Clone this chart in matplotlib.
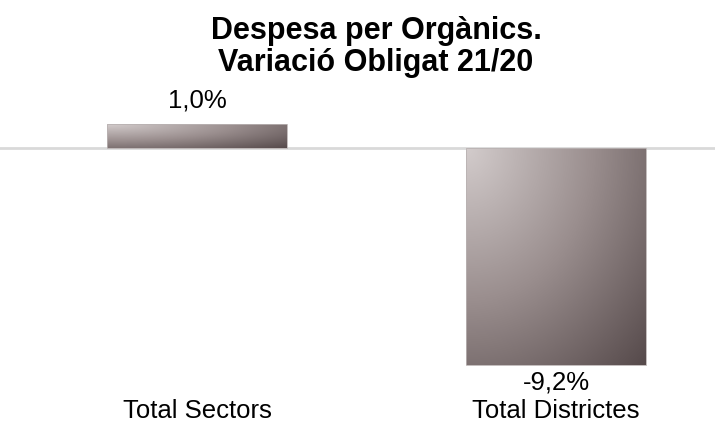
import numpy as np
import matplotlib
matplotlib.use('Agg')
import matplotlib.pyplot as plt
from matplotlib.colors import LinearSegmentedColormap

# Data
categories = ['Total Sectors', 'Total Districtes']
values = [1.0, -9.2]
value_labels = ['1,0%', '-9,2%']
title = 'Despesa per Orgànics.\nVariació Obligat 21/20'

plt.rcParams['font.family'] = ['Liberation Sans', 'DejaVu Sans']

fig = plt.figure(figsize=(7.15, 4.24), dpi=100)
# axes placed in pixel terms: top at y=115 px, bottom at y=375 px
ax = fig.add_axes([0, (424 - 375) / 424, 1, (375 - 115) / 424])

grad_cmap = LinearSegmentedColormap.from_list('bar', ['#d3cccc', '#9a8e8e', '#564a4b'])

x = np.arange(len(categories))
width = 0.5
bars = ax.bar(x, values, width=width, color='none', edgecolor='#b9b2b2', linewidth=0.6, zorder=3)

# diagonal gradient fill for each bar
u, v = np.meshgrid(np.linspace(0, 1, 200), np.linspace(0, 1, 200))
g = np.sqrt(u ** 2 + v ** 2) / np.sqrt(2)
for b in bars:
    x0, y0 = b.get_x(), b.get_y()
    w, h = b.get_width(), b.get_height()
    top, bot = max(y0, y0 + h), min(y0, y0 + h)
    im = ax.imshow(g, cmap=grad_cmap, extent=[x0, x0 + w, bot, top], origin='upper',
                   aspect='auto', zorder=2, interpolation='bilinear')
    im.set_clip_path(b)

ax.axhline(0, color='#d9d9d9', linewidth=2, zorder=1)

ax.set_xlim(-0.549, 1.443)
ax.set_ylim(-9.62, 1.398)
ax.axis('off')

# value labels
for xi, val, lab in zip(x, values, value_labels):
    if val >= 0:
        ax.text(xi, val + 0.5, lab, ha='center', va='bottom', fontsize=18.5)
    else:
        ax.text(xi, val - 0.25, lab, ha='center', va='top', fontsize=18.5)

# category labels
for xi, cat in zip(x, categories):
    fig.text((197 + 359 * xi) / 715, 1 - 411 / 424, cat, ha='center', va='center', fontsize=18.5)

fig.text(0.526, 1 - 47 / 424, title, ha='center', va='center', fontsize=22,
         fontweight='bold', linespacing=1.05)

fig.savefig('out.png', dpi=100)
